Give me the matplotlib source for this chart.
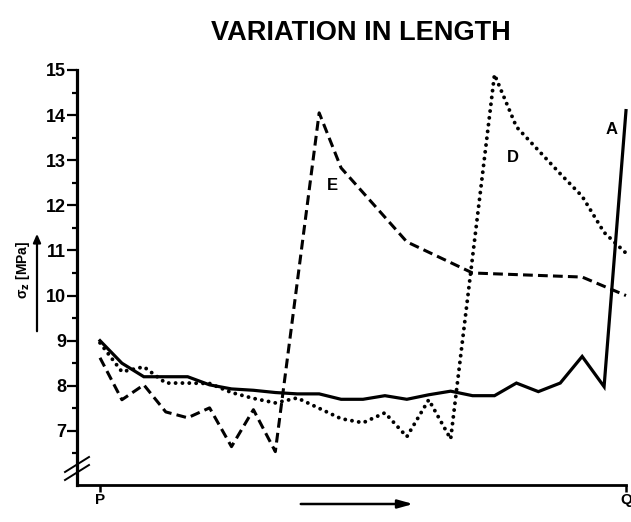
import matplotlib
matplotlib.use("Agg")
import matplotlib.pyplot as plt
from matplotlib import font_manager

names = {f.name for f in font_manager.fontManager.ttflist}
NARROW = 'Liberation Sans Narrow' if 'Liberation Sans Narrow' in names else 'Liberation Sans'
SANS = 'Liberation Sans'

# ---- data (x = measuring position index between P (0) and Q (24)) ----
a_x = list(range(25))
a_y = [9.0, 8.5, 8.2, 8.2, 8.2, 8.02, 7.93, 7.9, 7.85, 7.82, 7.82, 7.7, 7.7,
       7.78, 7.7, 7.8, 7.88, 7.78, 7.78, 8.06, 7.87, 8.06, 8.65, 7.98, 14.1]

d_x = [0, 1, 2, 3, 4, 5, 6, 7, 8, 9, 10, 11, 12, 13, 14, 15, 16, 18, 19, 21, 22, 23, 24]
d_y = [8.95, 8.31, 8.42, 8.06, 8.06, 8.05, 7.85, 7.72, 7.62, 7.73, 7.5, 7.27, 7.18,
       7.4, 6.87, 7.69, 6.82, 14.9, 13.74, 12.7, 12.2, 11.4, 10.94]

e_x = [0, 1, 2, 3, 4, 5, 6, 7, 8, 10, 11, 14, 17, 22, 24]
e_y = [8.62, 7.69, 8.02, 7.42, 7.29, 7.51, 6.65, 7.47, 6.54, 14.05, 12.83, 11.19,
       10.5, 10.41, 10.0]

y_major = [7, 8, 9, 10, 11, 12, 13, 14, 15]
y_minor = [6.5, 7.5, 8.5, 9.5, 10.5, 11.5, 12.5, 13.5, 14.5]
x_ticks = [0, 24]
x_labels = ['P', 'Q']

W, H = 631, 522
X0, XQ = 100, 626
step = (XQ - X0) / 24
fig = plt.figure(figsize=(W / 100, H / 100), dpi=100)
ax = fig.add_axes([77 / W, 1 - 485 / H, (XQ - 77) / W, (485 - 70) / H])
ax.set_xlim(-(X0 - 77) / step, 24)
ax.set_ylim(5.8, 15)

ax.plot(a_x, a_y, color='black', lw=2.3, solid_joinstyle='miter', clip_on=False)
ax.plot(e_x, e_y, color='black', lw=2.2, linestyle=(0, (3.2, 1.7)),
        dash_capstyle='butt', clip_on=False)
ax.plot(d_x, d_y, color='black', lw=2.8, linestyle=(0, (0.01, 1.75)),
        dash_capstyle='round', clip_on=False)

for s in ['top', 'right']:
    ax.spines[s].set_visible(False)
ax.spines['left'].set_linewidth(2.3)
ax.spines['bottom'].set_linewidth(2.0)

ax.set_yticks(y_major)
ax.set_yticks(y_minor, minor=True)
ax.set_yticklabels([str(v) for v in y_major], fontfamily=SANS,
                   fontweight='bold', fontsize=13)
ax.tick_params(axis='y', which='major', direction='out', length=7, width=1.6, pad=1)
ax.tick_params(axis='y', which='minor', direction='out', length=3.6, width=1.6)
ax.set_xticks(x_ticks)
ax.set_xticklabels(x_labels, fontfamily=SANS, fontweight='bold', fontsize=11)
ax.tick_params(axis='x', direction='out', length=5, width=1.8, pad=1)

# axis break marks on the y axis
def px(xp, yp):
    return xp / W, 1 - yp / H
for off in (0, 8):
    x0, y0 = px(65, 472 + off)
    x1, y1 = px(89, 457 + off)
    fig.add_artist(plt.Line2D([x0, x1], [y0, y1], color='black', lw=1.4))

# series labels
ax.text(10.6, 12.45, 'E', fontfamily=SANS, fontweight='bold',
        fontsize=12, ha='center', va='center')
ax.text(18.85, 13.07, 'D', fontfamily=SANS, fontweight='bold', fontsize=12,
        ha='center', va='center')
ax.text(23.35, 13.67, 'A', fontfamily=SANS, fontweight='bold', fontsize=12,
        ha='center', va='center')

# title
fig.text(*px(361, 33), 'VARIATION IN LENGTH', fontfamily=NARROW,
         fontweight='bold', fontsize=19.5, ha='center', va='center')

# y label with arrow
fig.text(*px(23, 270), 'σ$_{\\mathbf{z}}$ [MPa]', fontfamily=SANS, fontweight='bold',
         fontsize=10, rotation=90, ha='center', va='center')
fig.add_artist(matplotlib.patches.FancyArrowPatch(
    px(37, 334), px(37, 231), transform=fig.transFigure,
    arrowstyle='-|>,head_length=5,head_width=2.2', color='black', lw=1.6))

# direction arrow under x axis
fig.add_artist(matplotlib.patches.FancyArrowPatch(
    px(298, 504), px(416, 504), transform=fig.transFigure,
    arrowstyle='-|>,head_length=9,head_width=2.5', color='black', lw=1.8))

fig.savefig('out.png', dpi=100)
